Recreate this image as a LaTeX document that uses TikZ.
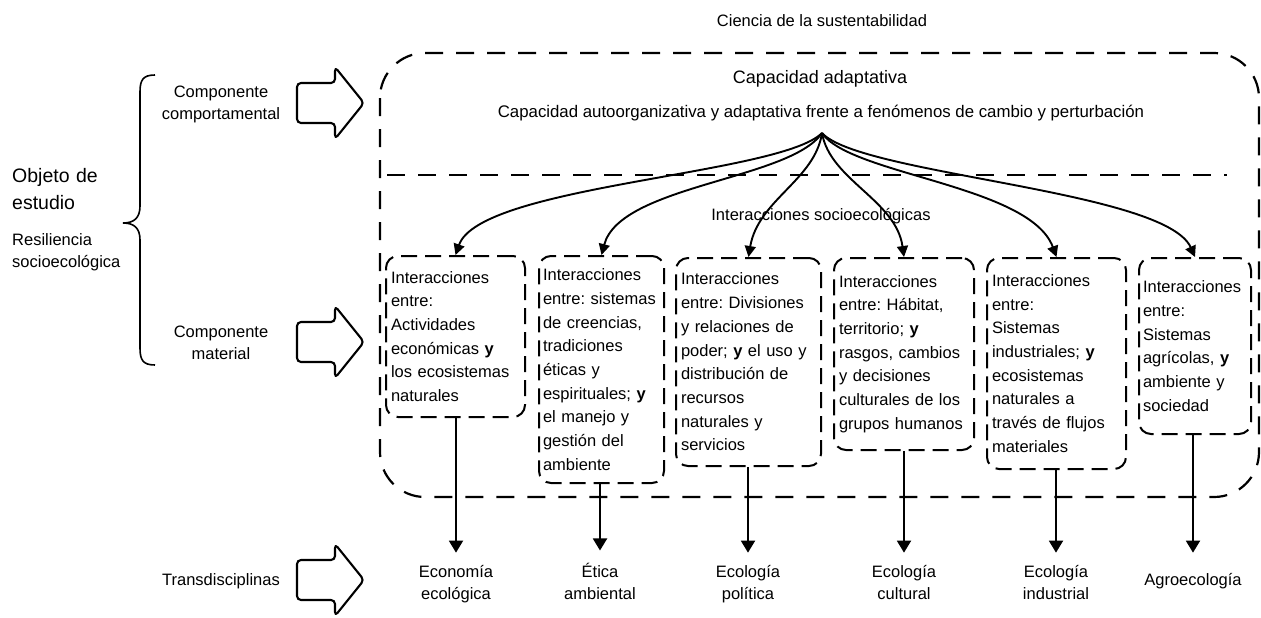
\documentclass[tikz,border=0pt]{standalone}
\usepackage{fontspec}
\setmainfont{Liberation Sans}
\usetikzlibrary{arrows.meta}
\frenchspacing
\hyphenpenalty=10000
\exhyphenpenalty=10000
\begin{document}
\begin{tikzpicture}[x=1pt,y=-1pt,
  txt/.style={inner sep=0pt, font=\fontsize{16.5}{22}\selectfont\frenchspacing},
  mtxt/.style={txt, anchor=base, text width=140pt, align=center},
  ibox/.style={draw, line width=2pt, dash pattern=on 16pt off 8pt, rounded corners=12pt,
    inner xsep=5pt, inner ysep=0pt, align=left, anchor=north west,
    font=\fontsize{16.5}{23.7}\selectfont\frenchspacing},
  outerdash/.style={line width=2.2pt, dash pattern=on 18pt off 13pt},
  carr/.style={line width=1.9pt, -{Triangle[length=11pt,width=11pt]}},
  varr/.style={line width=1.9pt, -{Triangle[length=12pt,width=14pt]}},
  barrow/.style={line width=2.1pt, rounded corners=4pt, line join=round},
]
\useasboundingbox (0,0) rectangle (1261,618);

% outer container and divider
\draw[outerdash, rounded corners=45pt] (380,53) rectangle (1259,497);
\draw[outerdash] (387,175) -- (1227,175);

% top texts
\node[txt, anchor=base] (title) at (822,27) {Ciencia de la sustentabilidad};
\node[txt, anchor=base, font=\fontsize{18}{22}\selectfont] (cap) at (820,83) {Capacidad adaptativa};
\node[txt, anchor=base, font=\fontsize{16.8}{22}\selectfont] (capdesc) at (821,117) {Capacidad autoorganizativa y adaptativa frente a fenómenos de cambio y perturbación};
\node[txt, anchor=base] (inter) at (821,220) {Interacciones socioecológicas};
\coordinate (fan) at (822,133);

% left texts
\node[txt, anchor=base west, text width=120pt, align=left, font=\fontsize{19.5}{27}\selectfont] (obj) at (12,182) {Objeto de\\estudio};
\node[txt, anchor=base west, text width=140pt, align=left] (res) at (12,245) {Resiliencia\\socioecológica};
\node[mtxt] (comp1) at (221,97) {Componente\\comportamental};
\node[mtxt] (comp2) at (221,337) {Componente\\material};
\node[mtxt] (trans) at (221,585) {Transdisciplinas};

% brace
\draw[line width=1.6pt] (155,75) .. controls (143,75) and (140,80) .. (140,92) -- (140,206)
  .. controls (140,218) and (134,223) .. (123,223)
  .. controls (134,223) and (140,228) .. (140,240) -- (140,348)
  .. controls (140,360) and (143,365) .. (155,365);

% block arrows
\draw[barrow] (297,83) -- (335,83) -- (335,67) -- (364,103) -- (335,139) -- (335,123) -- (297,123) -- cycle;
\draw[barrow] (297,322) -- (335,322) -- (335,306) -- (364,342) -- (335,378) -- (335,362) -- (297,362) -- cycle;
\draw[barrow] (297,560) -- (335,560) -- (335,544) -- (364,580) -- (335,616) -- (335,600) -- (297,600) -- cycle;

% interaction boxes
\node[ibox, text width=129pt, minimum width=139pt, minimum height=161pt] (b1) at (385,255)
  {Interacciones\\entre:\\Actividades\\económicas {\bfseries y}\\los ecosistemas\\naturales};
\node[ibox, inner xsep=4pt, text width=117pt, minimum width=125pt, minimum height=227pt] (b2) at (538,255)
  {Interacciones\\entre: sistemas\\de creencias,\\tradiciones\\éticas y\\espirituales; {\bfseries y}\\el manejo y\\gestión del\\ambiente};
\node[ibox, text width=135pt, minimum width=145pt, minimum height=208pt] (b3) at (675,257)
  {Interacciones\\entre: Divisiones\\y relaciones de\\poder; {\bfseries y} el uso y\\distribución de\\recursos\\naturales y\\servicios};
\node[ibox, text width=130pt, minimum width=140pt, minimum height=192pt] (b4) at (833,257)
  {Interacciones\\entre: Hábitat,\\territorio; {\bfseries y}\\rasgos, cambios\\y decisiones\\culturales de los\\grupos humanos};
\node[ibox, text width=129pt, minimum width=139pt, minimum height=211pt] (b5) at (986,257)
  {Interacciones\\entre:\\Sistemas\\industriales; {\bfseries y}\\ecosistemas\\naturales a\\través de flujos\\materiales};
\node[ibox, inner xsep=4pt, text width=104pt, minimum width=112pt, minimum height=176pt] (b6) at (1138,257)
  {Interacciones\\entre:\\Sistemas\\agrícolas, {\bfseries y}\\ambiente y\\sociedad};

% curved arrows
\draw[carr] (fan) .. controls (780,175) and (480,185) .. (b1.north);
\draw[carr] (fan) .. controls (790,180) and (620,185) .. (b2.north);
\draw[carr] (fan) .. controls (815,180) and (758,200) .. (b3.north);
\draw[carr] (fan) .. controls (830,180) and (896,200) .. (b4.north);
\draw[carr] (fan) .. controls (850,175) and (1030,185) .. (b5.north);
\draw[carr] (fan) .. controls (860,175) and (1165,190) .. (b6.north);

% disciplines
\node[mtxt] (e1) at (456,577) {Economía\\ecológica};
\node[mtxt] (e2) at (600,577) {Ética\\ambiental};
\node[mtxt] (e3) at (748,577) {Ecología\\política};
\node[mtxt] (e4) at (904,577) {Ecología\\cultural};
\node[mtxt] (e5) at (1056,577) {Ecología\\industrial};
\node[mtxt] (e6) at (1193,585) {Agroecología};

\draw[varr, shorten >=12pt] (e1.north |- b1.south) -- (e1.north);
\draw[varr, shorten >=12pt] (e2.north |- b2.south) -- (e2.north);
\draw[varr, shorten >=12pt] (e3.north |- b3.south) -- (e3.north);
\draw[varr, shorten >=12pt] (e4.north |- b4.south) -- (e4.north);
\draw[varr, shorten >=12pt] (e5.north |- b5.south) -- (e5.north);
\draw[varr, shorten >=20pt] (e6.north |- b6.south) -- (e6.north);
\end{tikzpicture}
\end{document}
